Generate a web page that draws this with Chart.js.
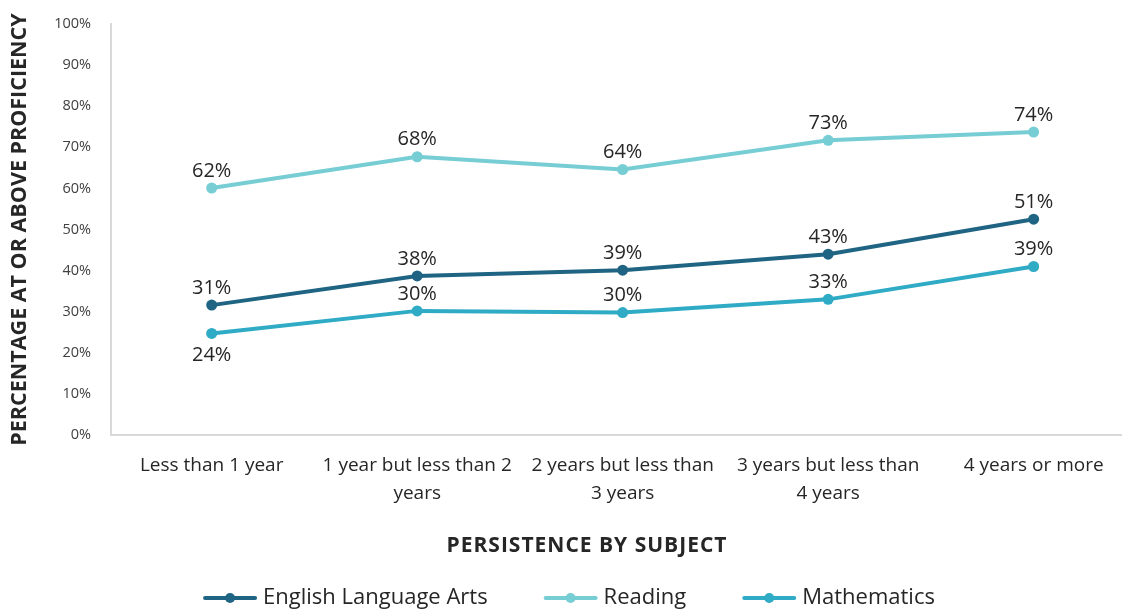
<!DOCTYPE html>
<html>
<head>
<meta charset="utf-8">
<title>Persistence by subject</title>
<script src="https://cdn.jsdelivr.net/npm/chart.js@4/dist/chart.umd.min.js"></script>
<style>
  html, body { margin: 0; padding: 0; background: #fff; overflow: hidden; }
  canvas { display: block; }
</style>
</head>
<body>
<canvas id="chart" width="1122" height="612"></canvas>
<script>
'use strict';

// категории по оси X
const categories = [
    'Less than 1 year',
    ['1 year but less than 2', 'years'],
    ['2 years but less than', '3 years'],
    ['3 years but less than', '4 years'],
    '4 years or more'
];

// положение точек на графике (в %)
const elaValues = [31.6, 38.7, 40.1, 44.0, 52.5];
const readingValues = [60.1, 67.7, 64.6, 71.7, 73.7];
const mathValues = [24.7, 30.2, 29.8, 33.0, 41.0];

// подписи над точками
const elaLabels = ['31%', '38%', '39%', '43%', '51%'];
const readingLabels = ['62%', '68%', '64%', '73%', '74%'];
const mathLabels = ['24%', '30%', '30%', '33%', '39%'];

const seriesNames = ['English Language Arts', 'Reading', 'Mathematics'];
const yTicks = [0, 10, 20, 30, 40, 50, 60, 70, 80, 90, 100];

const FONT = '"Open Sans", "Noto Sans", sans-serif';
const colors = ['#1f6483', '#76cdd4', '#2fabc5'];
const TEXT = '#262626';

function toPoints(values){
    return values.map((v, i) => ({x: i, y: v}));
}

function makeDataset(name, values, labels, color, below){
    return {
        label: name,
        data: toPoints(values),
        valueLabels: labels,
        labelBelow: below,
        borderColor: color,
        backgroundColor: color,
        borderWidth: 4,
        pointRadius: 5.5,
        pointHoverRadius: 5.5,
        pointBackgroundColor: color,
        pointBorderWidth: 0,
        tension: 0,
        clip: false
    };
}

// подписи значений у точек
const valueLabelPlugin = {
    id: 'valueLabels',
    afterDatasetsDraw(chart){
        const ctx = chart.ctx;
        ctx.save();
        ctx.font = '20px ' + FONT;
        ctx.fillStyle = TEXT;
        ctx.textAlign = 'center';
        chart.data.datasets.forEach((ds, di) => {
            const meta = chart.getDatasetMeta(di);
            meta.data.forEach((pt, i) => {
                const below = ds.labelBelow.indexOf(i) >= 0;
                if (below){
                    ctx.textBaseline = 'top';
                    ctx.fillText(ds.valueLabels[i], pt.x, pt.y + 12);
                } else {
                    ctx.textBaseline = 'bottom';
                    ctx.fillText(ds.valueLabels[i], pt.x, pt.y - 7);
                }
            });
        });
        ctx.restore();
    }
};

// заголовок оси X и легенда
const bottomPlugin = {
    id: 'bottomText',
    afterDraw(chart){
        const ctx = chart.ctx;
        ctx.save();
        ctx.fillStyle = TEXT;
        ctx.textBaseline = 'middle';
        ctx.textAlign = 'center';
        ctx.font = 'bold 21px ' + FONT;
        ctx.letterSpacing = '1px';
        ctx.fillText('PERSISTENCE BY SUBJECT', 587, 546);
        ctx.letterSpacing = '0px';

        ctx.font = '22px ' + FONT;
        const markW = 54, gapText = 6, gapItem = 56;
        const widths = seriesNames.map(n => markW + gapText + ctx.measureText(n).width);
        const total = widths.reduce((a, b) => a + b, 0) + gapItem * (widths.length - 1);
        let x = 569 - total / 2;
        const y = 598;
        ctx.textAlign = 'left';
        seriesNames.forEach((n, i) => {
            ctx.strokeStyle = colors[i];
            ctx.fillStyle = colors[i];
            ctx.lineWidth = 4;
            ctx.lineCap = 'round';
            ctx.beginPath();
            ctx.moveTo(x + 2, y);
            ctx.lineTo(x + markW - 2, y);
            ctx.stroke();
            ctx.beginPath();
            ctx.arc(x + markW / 2, y, 5, 0, Math.PI * 2);
            ctx.fill();
            ctx.fillStyle = TEXT;
            ctx.fillText(n, x + markW + gapText, y);
            x += widths[i] + gapItem;
        });
        ctx.restore();
    }
};

const ctx = document.getElementById('chart').getContext('2d');

new Chart(ctx, {
    type: 'line',
    data: {
        datasets: [
            makeDataset(seriesNames[0], elaValues, elaLabels, colors[0], []),
            makeDataset(seriesNames[1], readingValues, readingLabels, colors[1], []),
            makeDataset(seriesNames[2], mathValues, mathLabels, colors[2], [0])
        ]
    },
    options: {
        responsive: false,
        animation: false,
        devicePixelRatio: 1,
        layout: { autoPadding: false, padding: { top: 24, right: 0, bottom: 0, left: 0 } },
        plugins: {
            legend: { display: false },
            tooltip: { enabled: false }
        },
        scales: {
            x: {
                type: 'linear',
                min: -0.49,
                max: 4.43,
                afterBuildTicks(axis){
                    axis.ticks = categories.map((c, i) => ({value: i}));
                },
                afterFit(axis){
                    axis.height = 177;
                    axis.paddingLeft = 0;
                    axis.paddingRight = 0;
                },
                grid: { display: false, drawTicks: false },
                border: { display: true, color: '#d9d9d9', width: 2 },
                ticks: {
                    autoSkip: false,
                    maxRotation: 0,
                    padding: 17,
                    color: TEXT,
                    font: { family: FONT, size: 19, lineHeight: 1.47 },
                    callback: v => categories[v]
                }
            },
            y: {
                min: 0,
                max: 100,
                afterBuildTicks(axis){
                    axis.ticks = yTicks.map(v => ({value: v}));
                },
                afterFit(axis){
                    axis.width = 111;
                    axis.paddingTop = 0;
                    axis.paddingBottom = 0;
                },
                grid: { display: false, drawTicks: false },
                border: { display: true, color: '#d9d9d9', width: 2 },
                ticks: {
                    padding: 20,
                    color: '#404040',
                    font: { family: FONT, size: 14.5 },
                    callback: v => v + '%'
                },
                title: {
                    display: true,
                    text: 'PERCENTAGE AT OR ABOVE PROFICIENCY',
                    color: TEXT,
                    padding: { top: 7, bottom: 0 },
                    font: { family: FONT, size: 21.5, weight: 'bold' }
                }
            }
        }
    },
    plugins: [valueLabelPlugin, bottomPlugin]
});
</script>
</body>
</html>
